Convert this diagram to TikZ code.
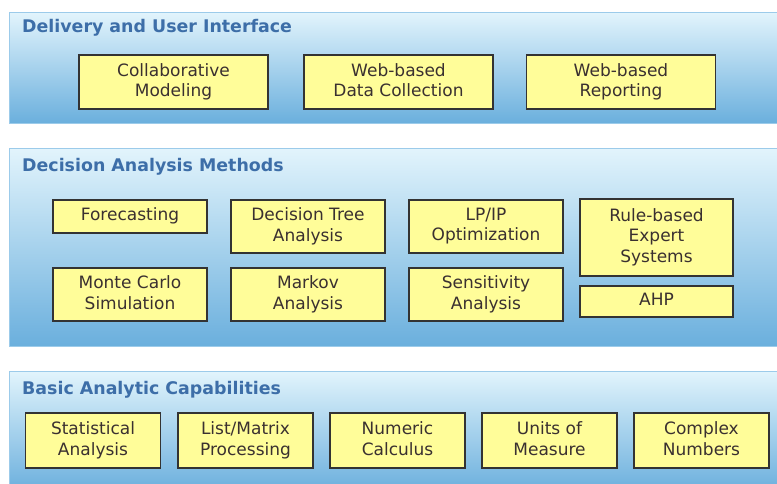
\documentclass[tikz,border=0pt]{standalone}
\usepackage{fontspec}
\setmainfont{DejaVu Sans}
\definecolor{bandtop}{HTML}{E2F4FC}
\definecolor{bandbot}{HTML}{6AAFDD}
\definecolor{bandline}{HTML}{9CCBEA}
\definecolor{titleblue}{HTML}{3D6EA8}
\definecolor{boxfill}{HTML}{FFFD99}
\definecolor{boxline}{HTML}{333333}
\definecolor{boxtext}{HTML}{3A3030}
\tikzset{
  band/.style={top color=bandtop, bottom color=bandbot, draw=bandline, line width=1pt, anchor=north west, inner sep=0},
  bandtitle/.style={anchor=base west, font=\fontsize{17.4}{20}\selectfont\bfseries, text=titleblue, inner sep=0},
  cbox/.style={draw=boxline, fill=boxfill, line width=1.6pt, align=center, font=\fontsize{17}{20.5}\selectfont, text=boxtext, inner sep=0, text depth=4pt},
  wA/.style={cbox, minimum width=189pt, minimum height=54pt},
  wB/.style={cbox, minimum width=154pt, minimum height=53pt},
  wC/.style={cbox, minimum width=135pt, minimum height=55pt}
}
\begin{document}
\begin{tikzpicture}[x=1pt,y=-1pt]
\useasboundingbox (0,0) rectangle (777,484);
\fill[white] (0,0) rectangle (777,484);
% bands
\node[band, minimum width=780pt, minimum height=111pt] (b1) at (9,12) {};
\node[band, minimum width=780pt, minimum height=198pt] (b2) at (9,148) {};
\node[band, minimum width=780pt, minimum height=120pt] (b3) at (9,371) {};
% titles
\node[bandtitle] (t1) at (22,33) {Delivery and User Interface};
\node[bandtitle] (t2) at (22,172) {Decision Analysis Methods};
\node[bandtitle] (t3) at (22,394) {Basic Analytic Capabilities};
% band 1
\node[wA] (collab) at (173.5,82) {Collaborative\\Modeling};
\node[wA] (webdc) at (398.5,82) {Web-based\\Data Collection};
\node[wA] (webrep) at (621,82) {Web-based\\Reporting};
% band 2
\node[cbox, minimum width=154pt, minimum height=33pt] (fore) at (130,216.5) {Forecasting};
\node[wB] (dtree) at (308,226.5) {Decision Tree\\Analysis};
\node[wB] (lpip) at (486,226.5) {LP/IP\\Optimization};
\node[cbox, minimum width=153pt, minimum height=77pt] (rule) at (656.5,237.5) {Rule-based\\Expert\\Systems};
\node[wB] (monte) at (130,294.5) {Monte Carlo\\Simulation};
\node[wB] (markov) at (308,294.5) {Markov\\Analysis};
\node[wB] (sens) at (486,294.5) {Sensitivity\\Analysis};
\node[cbox, minimum width=153pt, minimum height=31pt] (ahp) at (656.5,301.5) {AHP};
% band 3
\node[wC] (stat) at (93,440.5) {Statistical\\Analysis};
\node[wC] (list) at (245.5,440.5) {List/Matrix\\Processing};
\node[wC] (numc) at (397.5,440.5) {Numeric\\Calculus};
\node[wC] (units) at (549.5,440.5) {Units of\\Measure};
\node[wC] (cplx) at (701.5,440.5) {Complex\\Numbers};
\end{tikzpicture}
\end{document}
